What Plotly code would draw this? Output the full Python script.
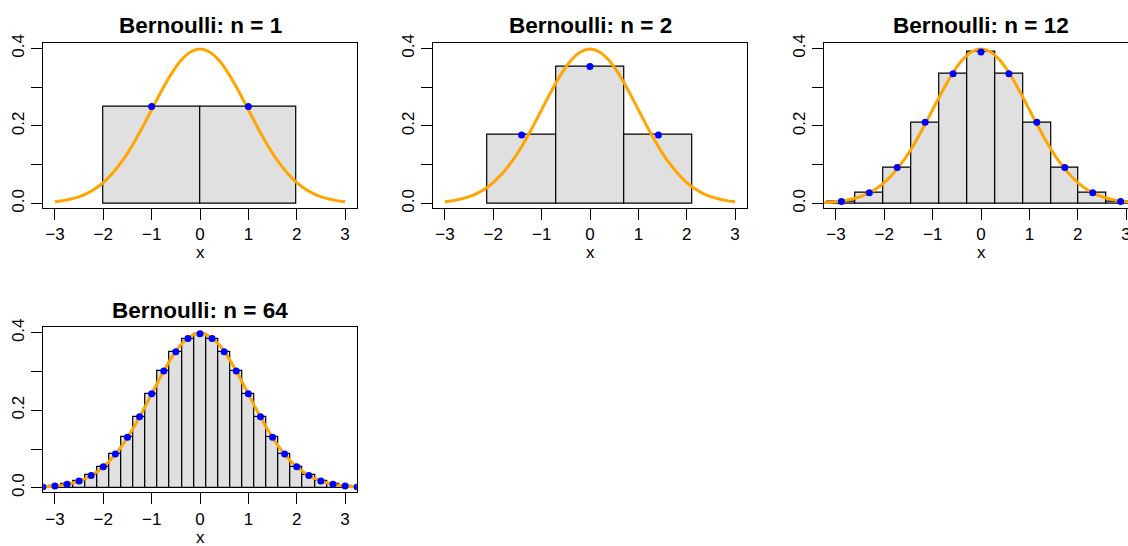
import plotly.graph_objects as go

# standard normal density, read at steps of 0.2
curve_x = [-3.4, -3.2, -3.0, -2.8, -2.6, -2.4, -2.2, -2.0, -1.8, -1.6, -1.4, -1.2, -1.0,
           -0.8, -0.6, -0.4, -0.2, 0.0, 0.2, 0.4, 0.6, 0.8, 1.0, 1.2, 1.4, 1.6, 1.8,
           2.0, 2.2, 2.4, 2.6, 2.8, 3.0, 3.2, 3.4]
curve_y = [0.00123, 0.00238, 0.00443, 0.00792, 0.01358, 0.02239, 0.03547, 0.05399,
           0.07895, 0.11092, 0.14973, 0.19419, 0.24197, 0.28969, 0.33322, 0.36827,
           0.39104, 0.39894, 0.39104, 0.36827, 0.33322, 0.28969, 0.24197, 0.19419,
           0.14973, 0.11092, 0.07895, 0.05399, 0.03547, 0.02239, 0.01358, 0.00792,
           0.00443, 0.00238, 0.00123]

# bars: standardized binomial densities
n1_x = [-1.0, 1.0]
n1_y = [0.25, 0.25]
n1_w = 2.0

n2_x = [-1.414, 0.0, 1.414]
n2_y = [0.1768, 0.3536, 0.1768]
n2_w = 1.414

n12_x = [-3.464, -2.887, -2.309, -1.732, -1.155, -0.577, 0.0, 0.577, 1.155, 1.732,
         2.309, 2.887, 3.464]
n12_y = [0.0004, 0.0051, 0.0279, 0.0930, 0.2093, 0.3349, 0.3907, 0.3349, 0.2093,
         0.0930, 0.0279, 0.0051, 0.0004]
n12_w = 0.577

n64_x = [-3.25, -3.0, -2.75, -2.5, -2.25, -2.0, -1.75, -1.5, -1.25, -1.0, -0.75, -0.5,
         -0.25, 0.0, 0.25, 0.5, 0.75, 1.0, 1.25, 1.5, 1.75, 2.0, 2.25, 2.5, 2.75, 3.0, 3.25]
n64_y = [0.0019, 0.0043, 0.0089, 0.0174, 0.0318, 0.0544, 0.0870, 0.1304, 0.1836,
         0.2426, 0.3012, 0.3513, 0.3853, 0.3974, 0.3853, 0.3513, 0.3012, 0.2426,
         0.1836, 0.1304, 0.0870, 0.0544, 0.0318, 0.0174, 0.0089, 0.0043, 0.0019]
n64_w = 0.25

titles = ["Bernoulli: n = 1", "Bernoulli: n = 2", "Bernoulli: n = 12", "Bernoulli: n = 64"]

W, H = 1128, 546
FONT = "Liberation Sans, Arial, sans-serif"

# panel boxes in pixels: left, top ; width/height are common
PW, PH = 313.4, 165.0
panels = [
    (43.3, 42.7, n1_x, n1_y, n1_w, False),
    (433.3, 42.7, n2_x, n2_y, n2_w, False),
    (824.3, 42.7, n12_x, n12_y, n12_w, True),
    (43.3, 327.0, n64_x, n64_y, n64_w, True),
]

fig = go.Figure()
layout = {}
annotations = []
for i, (left, top, bx, by, bw, full_curve) in enumerate(panels):
    k = "" if i == 0 else str(i + 1)
    xa, ya = "x" + k, "y" + k
    right = min(left + PW, W)
    xmax = -3.24 + (right - left) / PW * 6.48

    fig.add_trace(go.Bar(
        x=bx, y=by, width=[bw] * len(bx), xaxis=xa, yaxis=ya,
        marker=dict(color="#E0E0E0", line=dict(color="black", width=1.2)),
        showlegend=False,
    ))
    cx = curve_x if full_curve else curve_x[2:-2]
    cy = curve_y if full_curve else curve_y[2:-2]
    fig.add_trace(go.Scatter(
        x=cx, y=cy, mode="lines", line=dict(color="#FFA500", width=3, shape="spline"),
        xaxis=xa, yaxis=ya, showlegend=False,
    ))
    fig.add_trace(go.Scatter(
        x=bx, y=by, mode="markers", marker=dict(color="#0000FF", size=7),
        xaxis=xa, yaxis=ya, showlegend=False,
    ))

    layout["xaxis" + k] = dict(
        domain=[left / W, right / W], range=[-3.24, xmax], anchor=ya,
        tickvals=[-3, -2, -1, 0, 1, 2, 3], ticks="outside", ticklen=11, tickwidth=1,
        tickcolor="black", showline=True, linecolor="black", linewidth=1.2, mirror=True,
        showgrid=False, zeroline=False, tickfont=dict(size=17, color="black"),
        ticklabeloverflow="allow", automargin=False,
    )
    layout["yaxis" + k] = dict(
        domain=[1 - (top + PH) / H, 1 - top / H], range=[-0.011, 0.415], anchor=xa,
        tickvals=[0, 0.1, 0.2, 0.3, 0.4], ticktext=["0.0", "", "0.2", "", "0.4"],
        tickangle=-90, ticks="outside", ticklen=11, tickwidth=1, tickcolor="black",
        showline=True, linecolor="black", linewidth=1.2, mirror=(right == left + PW),
        showgrid=False, zeroline=False, tickfont=dict(size=17, color="black"),
        automargin=False,
    )
    center = left + PW / 2
    annotations.append(dict(
        text="<b>" + titles[i] + "</b>", x=center / W, y=1 - (top - 17) / H,
        xref="paper", yref="paper", xanchor="center", yanchor="middle",
        showarrow=False, font=dict(size=22.5, color="black", family=FONT),
    ))
    annotations.append(dict(
        text="x", x=center / W, y=1 - (top + 210) / H,
        xref="paper", yref="paper", xanchor="center", yanchor="middle",
        showarrow=False, font=dict(size=17, color="black", family=FONT),
    ))

fig.update_layout(
    width=W, height=H,
    margin=dict(l=0, r=0, t=0, b=0),
    paper_bgcolor="white", plot_bgcolor="white",
    font=dict(family=FONT, color="black"),
    bargap=0, annotations=annotations,
    **layout,
)

fig.write_html("out.html", config={"displayModeBar": False},
               post_script="document.body.style.margin = '0';")
